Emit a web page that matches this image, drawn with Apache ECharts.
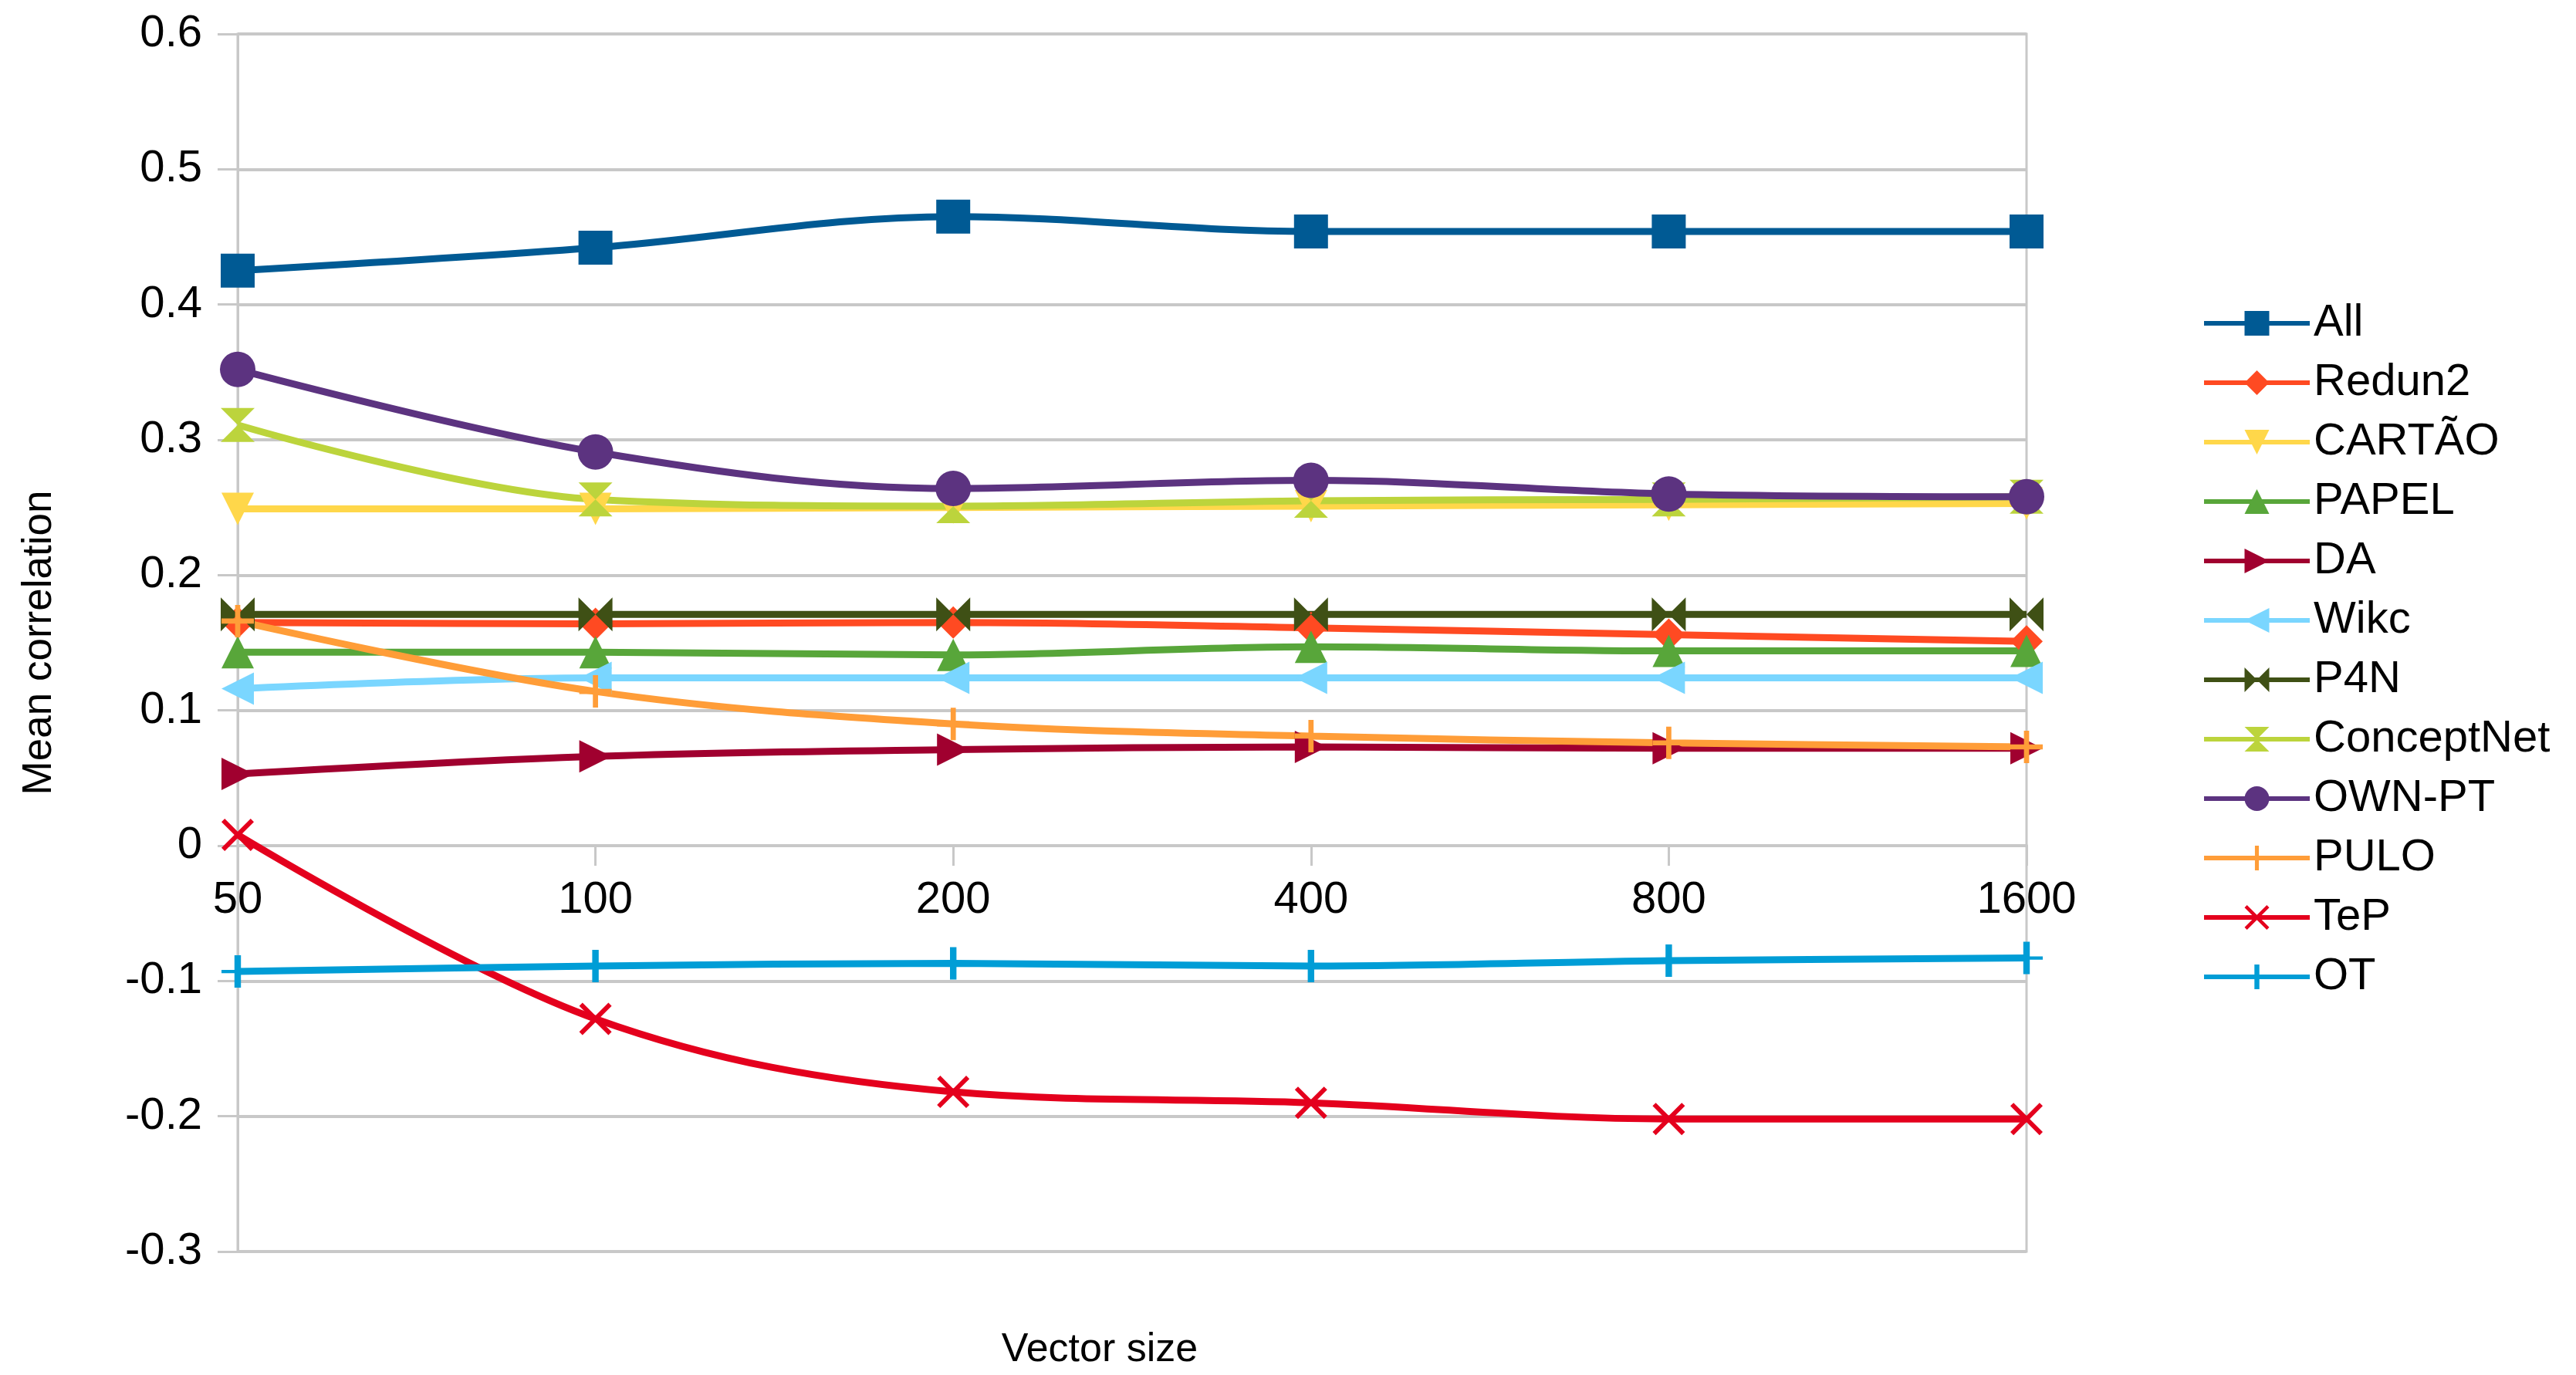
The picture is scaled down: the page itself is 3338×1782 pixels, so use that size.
<!DOCTYPE html>
<html>
<head>
<meta charset="utf-8">
<script src="https://cdn.jsdelivr.net/npm/echarts@6/dist/echarts.min.js"></script>
<style>html,body{margin:0;padding:0;background:#fff;}#c{width:3338px;height:1782px;}</style>
</head>
<body>
<div id="c"></div>
<script>
const categories = ['50', '100', '200', '400', '800', '1600'];
const seriesNames = ['All', 'Redun2', 'CARTÃO', 'PAPEL', 'DA', 'Wikc', 'P4N', 'ConceptNet', 'OWN-PT', 'PULO', 'TeP', 'OT'];
const All = [0.425, 0.442, 0.465, 0.454, 0.454, 0.454];
const Redun2 = [0.165, 0.164, 0.165, 0.161, 0.156, 0.151];
const CARTAO = [0.249, 0.249, 0.250, 0.251, 0.252, 0.253];
const PAPEL = [0.143, 0.143, 0.141, 0.147, 0.144, 0.144];
const DA = [0.053, 0.066, 0.071, 0.073, 0.072, 0.072];
const Wikc = [0.116, 0.124, 0.124, 0.124, 0.124, 0.124];
const P4N = [0.171, 0.171, 0.171, 0.171, 0.171, 0.171];
const ConceptNet = [0.311, 0.256, 0.251, 0.255, 0.256, 0.258];
const OWNPT = [0.352, 0.291, 0.264, 0.270, 0.260, 0.258];
const PULO = [0.166, 0.114, 0.090, 0.081, 0.076, 0.073];
const TeP = [0.008, -0.128, -0.182, -0.190, -0.202, -0.202];
const OT = [-0.093, -0.089, -0.087, -0.089, -0.085, -0.083];
const yTicks = { min: -0.3, max: 0.6, interval: 0.1 };

const values = [All, Redun2, CARTAO, PAPEL, DA, Wikc, P4N, ConceptNet, OWNPT, PULO, TeP, OT];
const colors = ['#005a94', '#ff4a22', '#ffd74a', '#58a63a', '#a0002f', '#7ad6ff', '#3f5015', '#bcd43c', '#5c3380', '#ff9d38', '#e4001d', '#009dd6'];
const symbols = [
  'rect',
  'diamond',
  'path://M0,0 L10,0 L5,10 Z',
  'triangle',
  'path://M0,0 L10,5 L0,10 Z',
  'path://M10,0 L0,5 L10,10 Z',
  'path://M0,0 L5,5 L0,10 Z M10,0 L5,5 L10,10 Z',
  'path://M0,0 L10,0 L5,5 Z M0,10 L10,10 L5,5 Z',
  'circle',
  'path://M4.2,0 L5.8,0 L5.8,4.2 L10,4.2 L10,5.8 L5.8,5.8 L5.8,10 L4.2,10 L4.2,5.8 L0,5.8 L0,4.2 L4.2,4.2 Z',
  'path://M0,1 L1,0 L5,4 L9,0 L10,1 L6,5 L10,9 L9,10 L5,6 L1,10 L0,9 L4,5 Z',
  'path://M4,0 L6,0 L6,4.5 L10,4.5 L10,5.5 L6,5.5 L6,10 L4,10 L4,5.5 L0,5.5 L0,4.5 L4,4.5 Z'
];
const sizes = [44, 42, 42, 42, 42, 42, 44, 44, 46, 42, 42, 42];

const series = seriesNames.map((n, i) => ({
  name: n,
  type: 'line',
  data: values[i],
  smooth: 0.35,
  symbol: symbols[i],
  symbolSize: sizes[i],
  showAllSymbol: true,
  itemStyle: { color: colors[i] },
  lineStyle: { color: colors[i], width: 9 },
  emphasis: { disabled: true },
  animation: false
}));

const grey = '#c8c8c8';
const chart = echarts.init(document.getElementById('c'), null, { renderer: 'canvas' });
chart.setOption({
  backgroundColor: '#ffffff',
  animation: false,
  textStyle: { fontFamily: 'Liberation Sans' },
  grid: { left: 308, right: 712, top: 44, bottom: 160, outerBoundsMode: 'none', containLabel: false, show: true, borderColor: grey, borderWidth: 3, backgroundColor: 'transparent' },
  legend: {
    orient: 'vertical',
    left: 2848,
    top: 384,
    itemWidth: 137,
    itemHeight: 40,
    itemGap: 17,
    data: seriesNames,
    textStyle: { fontSize: 58, color: '#000', fontFamily: 'Liberation Sans', lineHeight: 60, padding: [0, 0, 0, 0] },
    lineStyle: { width: 6 },
    selectedMode: false
  },
  xAxis: {
    type: 'category',
    data: categories,
    boundaryGap: false,
    position: 'bottom',
    offset: -526,
    axisLine: { show: true, onZero: false, lineStyle: { color: grey, width: 4 } },
    axisTick: { show: true, alignWithLabel: true, length: 26, lineStyle: { color: grey, width: 3 } },
    axisLabel: { fontSize: 58, color: '#000', margin: 42, fontFamily: 'Liberation Sans' },
    splitLine: { show: false },
    name: 'Vector size',
    nameLocation: 'middle',
    nameGap: 628,
    nameMoveOverlap: false,
    nameTextStyle: { fontSize: 52, color: '#000', fontFamily: 'Liberation Sans', padding: [0, 84, 0, 0] }
  },
  yAxis: {
    type: 'value',
    min: yTicks.min,
    max: yTicks.max,
    interval: yTicks.interval,
    axisLine: { show: true, lineStyle: { color: grey, width: 3 } },
    axisTick: { show: true, length: 26, lineStyle: { color: grey, width: 3 } },
    axisLabel: { fontSize: 58, color: '#000', margin: 46, fontFamily: 'Liberation Sans', formatter: v => String(Math.round(v * 10) / 10) },
    splitLine: { show: true, lineStyle: { color: grey, width: 4 } },
    name: 'Mean correlation',
    nameLocation: 'middle',
    nameGap: 230,
    nameTextStyle: { fontSize: 53, color: '#000', fontFamily: 'Liberation Sans' }
  },
  series: series
});
</script>
</body>
</html>
